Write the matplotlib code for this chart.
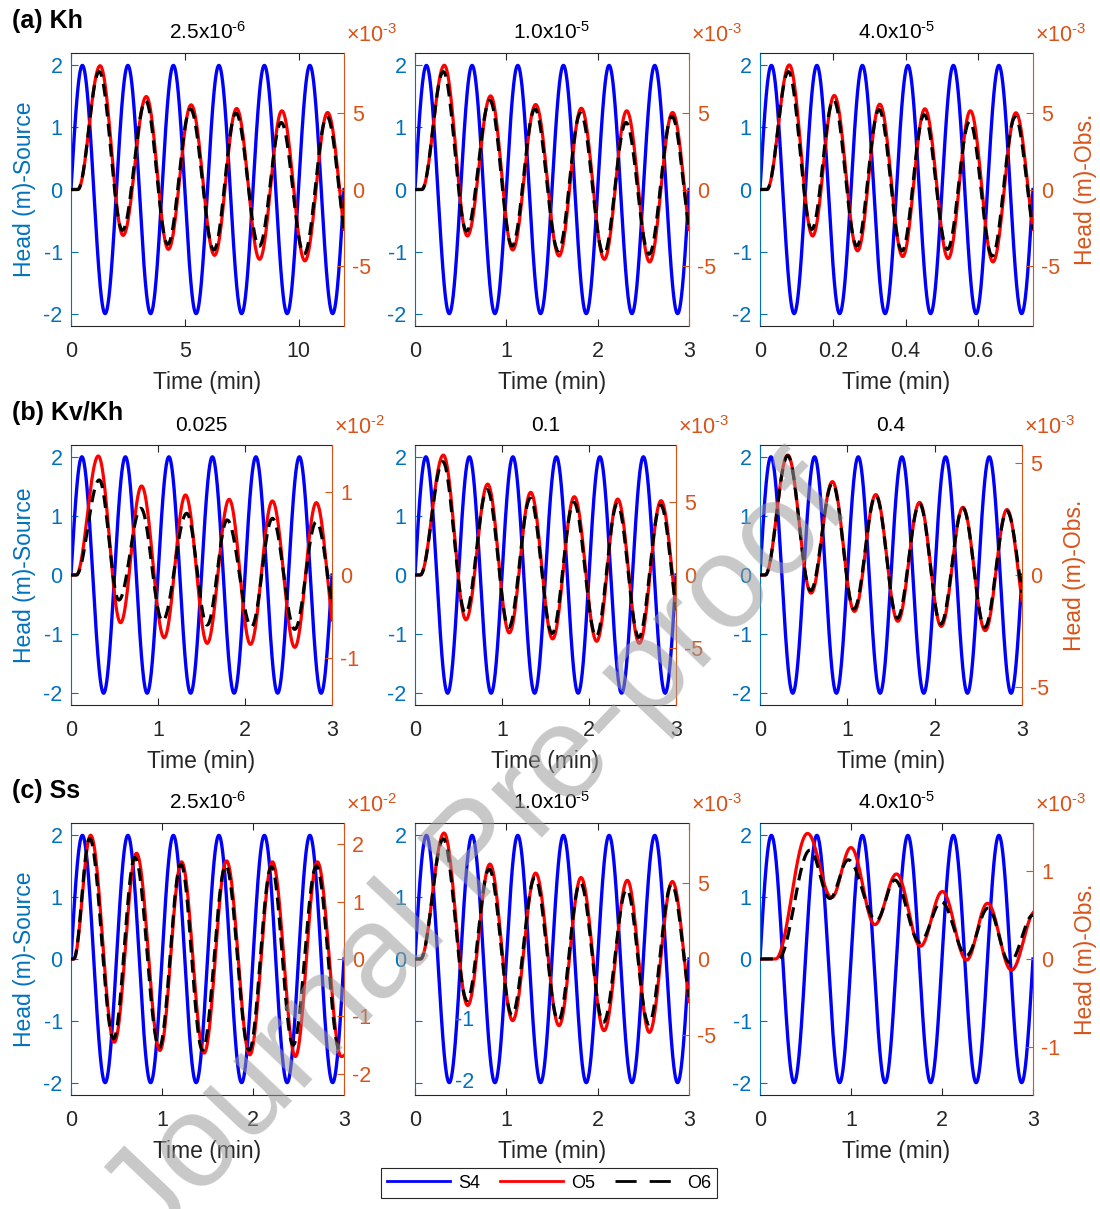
import numpy as np
import matplotlib
matplotlib.use('Agg')
import matplotlib.pyplot as plt
import matplotlib.transforms as mtransforms
from matplotlib.lines import Line2D
from matplotlib.ticker import FormatStrFormatter

plt.rcParams['font.family'] = ['Liberation Sans', 'DejaVu Sans']
plt.rcParams['mathtext.default'] = 'regular'
plt.rcParams['axes.unicode_minus'] = False

HY = '\u2010'  # short hyphen used in superscripts

# ---------------- data ----------------
row_labels = ['(a) Kh', '(b) Kv/Kh', '(c) Ss']
titles_a = ['2.5x10$^{' + HY + '6}$', '1.0x10$^{' + HY + '5}$', '4.0x10$^{' + HY + '5}$']
titles_b = ['0.025', '0.1', '0.4']
titles_c = ['2.5x10$^{' + HY + '6}$', '1.0x10$^{' + HY + '5}$', '4.0x10$^{' + HY + '5}$']
legend_labels = ['S4', 'O5', 'O6']

xmax_a = [12, 3, 0.75]
xmax_b = [3, 3, 3]
xmax_c = [3, 3, 3]
xticks_a = [[0, 5, 10], [0, 1, 2, 3], [0, 0.2, 0.4, 0.6]]
xticks_b = [[0, 1, 2, 3]] * 3
xticks_c = [[0, 1, 2, 3]] * 3

# source S4 (left axis, m)
src_amp = 2.0
src_period_a = [2.0, 0.5, 0.125]
src_period_b = [0.5, 0.5, 0.5]
src_period_c = [0.5, 0.5, 0.5]
left_ticks = [-2, -1, 0, 1, 2]
left_lim = 2.2

# observation axis (right) : exponent, limit, ticks (in units of 10^exp)
obs_exp_a = [-3, -3, -3]
obs_exp_b = [-2, -3, -3]
obs_exp_c = [-2, -3, -3]
obs_lim_a = [8.9, 8.9, 8.9]
obs_lim_b = [1.56, 8.87, 5.82]
obs_lim_c = [2.37, 8.9, 1.55]
obs_ticks_a = [[-5, 0, 5], [-5, 0, 5], [-5, 0, 5]]
obs_ticks_b = [[-1, 0, 1], [-5, 0, 5], [-5, 0, 5]]
obs_ticks_c = [[-2, -1, 0, 1, 2], [-5, 0, 5], [-1, 0, 1]]

# observed heads: turning points (time in min, value in units of 10^exp)
a1_o5_t = [0, 0.3, 1.28, 2.29, 3.31, 4.28, 5.28, 6.31, 7.28, 8.29, 9.27, 10.28, 11.28, 12.0]
a1_o5_v = [0, 0, 8.07, -2.99, 6.06, -3.90, 5.52, -4.29, 5.28, -4.55, 5.13, -4.65, 5.02, -2.6]
a1_o6_t = [0, 0.3, 1.24, 2.26, 3.28, 4.25, 5.25, 6.28, 7.25, 8.27, 9.24, 10.25, 11.25, 12.0]
a1_o6_v = [0, 0, 7.68, -2.66, 5.78, -3.57, 5.24, -3.94, 4.98, -3.70, 4.37, -4.20, 4.76, -2.6]

a2_o5_t = [0, 0.075, 0.321, 0.573, 0.828, 1.069, 1.321, 1.577, 1.821, 2.073, 2.318, 2.569, 2.82, 3.0]
a2_o5_v = [0, 0, 8.10, -3.03, 6.10, -3.94, 5.54, -4.33, 5.30, -4.55, 5.13, -4.72, 5.02, -2.6]
a2_o6_t = [0, 0.075, 0.31, 0.565, 0.82, 1.063, 1.313, 1.57, 1.813, 2.067, 2.31, 2.563, 2.813, 3.0]
a2_o6_v = [0, 0, 7.68, -2.71, 5.80, -3.68, 5.24, -4.00, 4.98, -4.22, 4.37, -4.22, 4.76, -2.6]

a3_o5_t = [0, 0.019, 0.0805, 0.1445, 0.204, 0.268, 0.329, 0.392, 0.453, 0.517, 0.578, 0.640, 0.703, 0.75]
a3_o5_v = [0, 0, 8.12, -3.03, 6.13, -4.00, 5.56, -4.37, 5.26, -4.50, 5.13, -4.72, 5.00, -2.6]
a3_o6_t = [0, 0.019, 0.078, 0.142, 0.202, 0.266, 0.327, 0.390, 0.451, 0.515, 0.576, 0.638, 0.701, 0.75]
a3_o6_v = [0, 0, 7.68, -2.60, 5.84, -3.68, 5.20, -4.00, 4.87, -3.90, 4.44, -4.33, 4.72, -2.6]

b1_o5_t = [0, 0.06, 0.314, 0.57, 0.811, 1.071, 1.316, 1.565, 1.818, 2.063, 2.315, 2.572, 2.82, 3.0]
b1_o5_v = [0, 0, 1.428, -0.572, 1.068, -0.752, 0.96, -0.82, 0.908, -0.832, 0.888, -0.868, 0.868, -0.54]
b1_o6_t = [0, 0.06, 0.325, 0.55, 0.803, 1.052, 1.33, 1.565, 1.795, 2.074, 2.315, 2.572, 2.82, 3.0]
b1_o6_v = [0, 0, 1.14, -0.30, 0.80, -0.552, 0.74, -0.60, 0.66, -0.62, 0.68, -0.652, 0.64, -0.36]

b2_o5_t = [0, 0.06, 0.326, 0.586, 0.835, 1.084, 1.33, 1.582, 1.831, 2.088, 2.33, 2.579, 2.828, 3.0]
b2_o5_v = [0, 0, 8.18, -3.05, 6.20, -3.95, 5.64, -4.36, 5.34, -4.52, 5.18, -4.66, 5.07, -2.3]
b2_o6_t = [0, 0.06, 0.32, 0.58, 0.83, 1.078, 1.325, 1.576, 1.826, 2.082, 2.325, 2.573, 2.823, 3.0]
b2_o6_v = [0, 0, 7.73, -2.61, 5.82, -3.57, 5.23, -3.98, 4.95, -4.20, 4.84, -4.25, 4.77, -2.4]

b3_o5_t = [0, 0.06, 0.317, 0.585, 0.829, 1.081, 1.326, 1.578, 1.827, 2.075, 2.323, 2.579, 2.828, 3.0]
b3_o5_v = [0, 0, 5.37, -0.81, 4.18, -1.63, 3.60, -2.07, 3.25, -2.30, 3.03, -2.49, 2.93, -1.15]
b3_o6_t = [0, 0.06, 0.317, 0.58, 0.829, 1.076, 1.326, 1.573, 1.827, 2.07, 2.323, 2.574, 2.828, 3.0]
b3_o6_v = [0, 0, 5.34, -0.70, 4.10, -1.52, 3.55, -1.93, 3.18, -2.19, 2.99, -2.34, 2.85, -0.8]

c1_o5_t = [0, 0.03, 0.216, 0.476, 0.72, 0.977, 1.215, 1.463, 1.709, 1.965, 2.213, 2.466, 2.707, 2.97, 3.0]
c1_o5_v = [0, 0, 2.157, -1.45, 1.843, -1.594, 1.693, -1.64, 1.71, -1.67, 1.693, -1.70, 1.693, -1.70, -1.68]
c1_o6_t = [0, 0.03, 0.205, 0.468, 0.703, 0.970, 1.208, 1.445, 1.701, 1.958, 2.203, 2.441, 2.697, 2.955, 3.0]
c1_o6_v = [0, 0, 2.10, -1.39, 1.77, -1.54, 1.65, -1.59, 1.63, -1.59, 1.61, -1.50, 1.62, -1.60, -1.57]

c2_o5_t = [0, 0.06, 0.318, 0.577, 0.82, 1.069, 1.321, 1.577, 1.818, 2.07, 2.325, 2.566, 2.818, 3.0]
c2_o5_v = [0, 0, 8.24, -3.04, 6.21, -4.03, 5.62, -4.36, 5.33, -4.69, 5.15, -4.80, 5.07, -2.78]
c2_o6_t = [0, 0.06, 0.31, 0.57, 0.812, 1.062, 1.313, 1.57, 1.81, 2.063, 2.318, 2.56, 2.81, 3.0]
c2_o6_v = [0, 0, 7.86, -2.71, 5.88, -3.66, 5.33, -4.03, 5.00, -4.14, 4.56, -4.25, 4.89, -2.49]

c3_o5_t = [0, 0.17, 0.523, 0.787, 0.999, 1.262, 1.5, 1.763, 2.004, 2.27, 2.5, 2.763, 3.0]
c3_o5_v = [0, 0, 1.431, 0.70, 1.27, 0.392, 0.969, 0.146, 0.769, -0.012, 0.635, -0.127, 0.527]
c3_o6_t = [0, 0.2, 0.549, 0.768, 0.97, 1.28, 1.48, 1.756, 1.994, 2.27, 2.506, 2.744, 3.0]
c3_o6_v = [0, 0, 1.24, 0.69, 1.13, 0.44, 0.90, 0.19, 0.65, 0.04, 0.58, -0.04, 0.50]

# left tick labels of panel (c) middle that are displaced in the original
c2_shifted_ticks = [-1, -2]

# ---------------- helpers ----------------
W, H = 1100, 1209
BLUE_AX = '#0072BD'
ORANGE_AX = '#D95319'
DARK = '#262626'
TICK_FS = 15.5
LABEL_FS = 16.5


def smooth_through(t_pts, v_pts, n=1500):
    """Smooth oscillation passing through the read turning points."""
    t_pts = np.asarray(t_pts, float)
    v_pts = np.asarray(v_pts, float)
    tt = np.linspace(t_pts[0], t_pts[-1], n)
    out = np.zeros_like(tt)
    half = np.median(np.diff(t_pts[2:-1]))
    nseg = len(t_pts) - 1
    for i in range(nseg):
        t0, t1 = t_pts[i], t_pts[i + 1]
        v0, v1 = v_pts[i], v_pts[i + 1]
        m = (tt >= t0) & (tt <= t1)
        if i == nseg - 1 and (t1 - t0) < 0.95 * half:
            th = np.pi * (t1 - t0) / half
            A = (v0 - v1) / (1 - np.cos(th))
            c = v0 - A
            out[m] = c + A * np.cos(np.pi * (tt[m] - t0) / half)
        else:
            s = (tt[m] - t0) / (t1 - t0)
            out[m] = v0 + (v1 - v0) * (1 - np.cos(np.pi * s)) / 2
    return tt, out


fig = plt.figure(figsize=(W / 100, H / 100), dpi=100)
fig.patch.set_facecolor('white')


def panel(rect, xmax, xticks, period, o5, o6, rlim, rticks, rexp, title,
          left_label=False, right_label=False):
    x0, x1, y0, y1 = rect
    ax = fig.add_axes([x0 / W, 1 - y1 / H, (x1 - x0) / W, (y1 - y0) / H])
    ax2 = ax.twinx()
    t = np.linspace(0, xmax, 3000)
    ax.plot(t, src_amp * np.sin(2 * np.pi * t / period), color='#0000FF', lw=2.4)
    tt, yy = smooth_through(*o5)
    ax2.plot(tt, yy, color='#FF0000', lw=2.3)
    tt, yy = smooth_through(*o6)
    ax2.plot(tt, yy, color='black', lw=2.3, dashes=(4.0, 2.3))

    ax.set_xlim(0, xmax)
    ax.set_ylim(-left_lim, left_lim)
    ax2.set_ylim(-rlim, rlim)
    ax.set_xticks(xticks)
    ax.xaxis.set_major_formatter(FormatStrFormatter('%g'))
    ax.set_yticks(left_ticks)
    ax2.set_yticks(rticks)

    for s in ['top', 'bottom']:
        ax.spines[s].set_color(DARK)
        ax.spines[s].set_linewidth(0.8)
    ax.spines['left'].set_color(BLUE_AX)
    ax.spines['left'].set_linewidth(0.8)
    ax.spines['right'].set_visible(False)
    for s in ['left', 'top', 'bottom']:
        ax2.spines[s].set_visible(False)
    ax2.spines['right'].set_color(ORANGE_AX)
    ax2.spines['right'].set_linewidth(0.8)

    ax.tick_params(axis='x', direction='in', top=True, bottom=True, length=5,
                   width=0.8, color=DARK, labelcolor=DARK, labelsize=TICK_FS, pad=11)
    ax.tick_params(axis='y', direction='in', left=True, right=False, length=5,
                   width=0.8, color=BLUE_AX, labelcolor=BLUE_AX, labelsize=TICK_FS, pad=6)
    ax2.tick_params(axis='y', direction='in', length=5, width=0.8,
                    color=ORANGE_AX, labelcolor=ORANGE_AX, labelsize=TICK_FS, pad=6)

    ax.set_xlabel('Time (min)', fontsize=LABEL_FS, color=DARK, labelpad=6)
    ax.set_title(title, fontsize=15, color='black', pad=10)
    if left_label:
        ax.set_ylabel('Head (m)-Source', fontsize=LABEL_FS, color=BLUE_AX, labelpad=5)
    if right_label:
        ax2.set_ylabel('Head (m)-Obs.', fontsize=LABEL_FS, color=ORANGE_AX, labelpad=10)

    fig.text((x1 + 2) / W, 1 - (y0 - 11) / H, '\u00d710$^{' + HY + '%d}$' % abs(rexp),
             color=ORANGE_AX, fontsize=TICK_FS, ha='left', va='baseline')
    return ax


rects_a = [(71, 344, 53, 326), (415, 689, 53, 326), (760, 1033, 53, 326)]
rects_b = [(71, 332, 445, 705), (415, 676, 445, 705), (760, 1022, 445, 705)]
rects_c = [(71, 344, 823, 1095), (415, 689, 823, 1095), (760, 1033, 823, 1095)]

obs_a = [((a1_o5_t, a1_o5_v), (a1_o6_t, a1_o6_v)),
         ((a2_o5_t, a2_o5_v), (a2_o6_t, a2_o6_v)),
         ((a3_o5_t, a3_o5_v), (a3_o6_t, a3_o6_v))]
obs_b = [((b1_o5_t, b1_o5_v), (b1_o6_t, b1_o6_v)),
         ((b2_o5_t, b2_o5_v), (b2_o6_t, b2_o6_v)),
         ((b3_o5_t, b3_o5_v), (b3_o6_t, b3_o6_v))]
obs_c = [((c1_o5_t, c1_o5_v), (c1_o6_t, c1_o6_v)),
         ((c2_o5_t, c2_o5_v), (c2_o6_t, c2_o6_v)),
         ((c3_o5_t, c3_o5_v), (c3_o6_t, c3_o6_v))]

rows = [
    (rects_a, xmax_a, xticks_a, src_period_a, obs_a, obs_lim_a, obs_ticks_a, obs_exp_a, titles_a),
    (rects_b, xmax_b, xticks_b, src_period_b, obs_b, obs_lim_b, obs_ticks_b, obs_exp_b, titles_b),
    (rects_c, xmax_c, xticks_c, src_period_c, obs_c, obs_lim_c, obs_ticks_c, obs_exp_c, titles_c),
]
axes = {}
for r, (rects, xm, xt, per, obs, lim, rt, ex, tl) in enumerate(rows):
    for c in range(3):
        axes[(r, c)] = panel(rects[c], xm[c], xt[c], per[c], obs[c][0], obs[c][1], lim[c],
                             rt[c], ex[c], tl[c], left_label=(c == 0), right_label=(c == 2))

# displaced left tick labels in panel (c) middle
ax_c2 = axes[(2, 1)]
ax_c2.set_yticklabels(['' if v in c2_shifted_ticks else '%d' % v for v in left_ticks])
blend = mtransforms.blended_transform_factory(ax_c2.transAxes, ax_c2.transData)
for v in c2_shifted_ticks:
    ax_c2.text(0.18, v, '%d' % v, color=BLUE_AX, fontsize=TICK_FS, ha='center',
               va='center', transform=blend)

# row labels
row_label_y = [28, 420, 798]
for lab, yb in zip(row_labels, row_label_y):
    fig.text(12 / W, 1 - yb / H, lab, fontsize=18, fontweight='bold', color='black',
             ha='left', va='baseline')

# legend
handles = [Line2D([], [], color='#0000FF', lw=2),
           Line2D([], [], color='#FF0000', lw=2),
           Line2D([], [], color='black', lw=2, dashes=(7.6, 4.7))]
leg = fig.legend(handles, legend_labels, loc='lower center', bbox_to_anchor=(549 / W, 2 / H),
                 ncol=3, fontsize=13, frameon=True, fancybox=False, edgecolor=DARK,
                 handlelength=3.5, handletextpad=0.45, columnspacing=1.1,
                 borderpad=0.35, framealpha=1)
leg.get_frame().set_linewidth(0.8)

# watermark
fig.text(478 / W, 1 - 855 / H, 'Journal Pre-proof', fontsize=95, color='#9a9a9a',
         alpha=0.55, rotation=46.5, ha='center', va='center', rotation_mode='anchor', zorder=100)

fig.savefig('out.png', dpi=100, facecolor='white')
